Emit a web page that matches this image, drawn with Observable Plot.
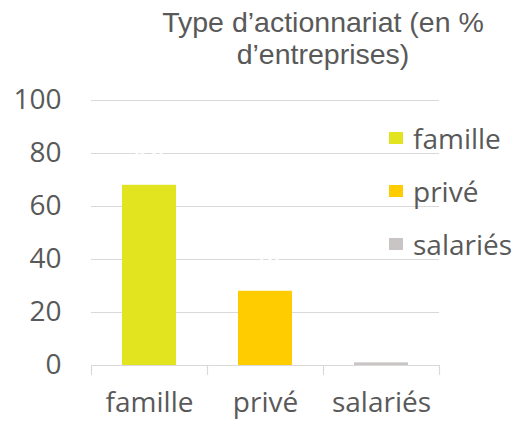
<!DOCTYPE html>
<html><head><meta charset="utf-8">
<script src="https://cdn.jsdelivr.net/npm/d3@7"></script>
<script src="https://cdn.jsdelivr.net/npm/@observablehq/plot@0.6"></script>
<style>
html,body{margin:0;padding:0;background:#fff;}
#chart{position:relative;width:513px;height:421px;}
</style></head><body><div id="chart"></div>
<script>
const categories = ["famille", "privé", "salariés"];
const values = [68, 28, 1];
const colors = ["#E1E41F", "#FFCC00", "#C9C5C5"];
const yTicks = [0, 20, 40, 60, 80, 100];
const titleLines = ["Type d’actionnariat (en %", "d’entreprises)"];

const data = categories.map((c, i) => ({category: c, value: values[i]}));
const textColor = "#595959";
const gridColor = "#D9D9D9";

const plot = Plot.plot({
  width: 513, height: 421,
  marginLeft: 91, marginRight: 74, marginTop: 100, marginBottom: 56,
  style: {fontFamily: "'Open Sans', sans-serif", fontSize: "28px", color: textColor, background: "#fff"},
  x: {domain: categories, paddingInner: 0.535, paddingOuter: 0.2675, axis: null},
  y: {domain: [0, 100], axis: null},
  color: {domain: categories, range: colors},
  marks: [
    Plot.ruleY(yTicks, {y: d => d, stroke: gridColor, strokeWidth: 1.2}),
    Plot.ruleX(categories, {x: d => d, dx: -58, y1: 0, y2: -3.8, stroke: gridColor, strokeWidth: 1.2}),
    Plot.ruleX(categories.slice(-1), {x: d => d, dx: 58, y1: 0, y2: -3.8, stroke: gridColor, strokeWidth: 1.2}),
    Plot.barY(data, {x: "category", y: "value", fill: "category"}),
    Plot.text(data, {x: "category", y: "value", text: d => String(d.value), fill: "white", dy: -28, fontSize: 28}),
    Plot.axisY(yTicks, {anchor: "left", tickSize: 0, tickPadding: 30, fontSize: 28, label: null}),
    Plot.axisX({anchor: "bottom", tickSize: 0, tickPadding: 27, fontSize: 28, label: null})
  ]
});
document.getElementById("chart").appendChild(plot);

const svg = d3.select(plot);
const title = svg.append("g")
  .attr("font-family", "'Liberation Sans', Arial, sans-serif")
  .attr("font-size", 28.5)
  .attr("fill", textColor)
  .attr("text-anchor", "middle");
titleLines.forEach((t, i) => {
  title.append("text").attr("x", 323).attr("y", 31.5 + i * 32).text(t);
});

const legend = svg.append("g")
  .attr("font-family", "'Open Sans', sans-serif")
  .attr("font-size", 28)
  .attr("fill", textColor)
  .attr("text-anchor", "start");
categories.forEach((c, i) => {
  legend.append("rect").attr("x", 389).attr("y", 132 + i * 53).attr("width", 14).attr("height", 12).attr("fill", colors[i]);
  legend.append("text").attr("x", 413).attr("y", 149 + i * 53).text(c);
});
</script></body></html>
